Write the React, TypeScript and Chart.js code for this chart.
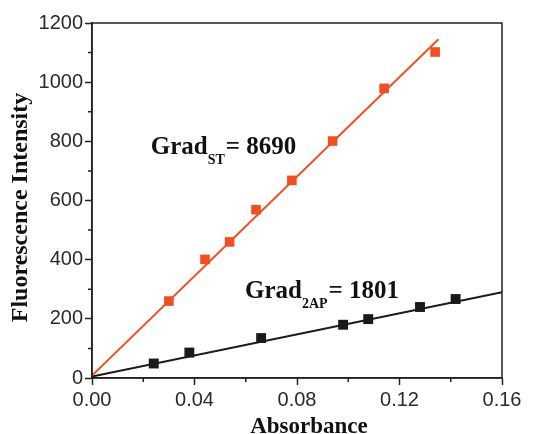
import React, { useEffect, useRef } from 'react';
import { Chart, registerables } from 'chart.js';

Chart.register(...registerables);

// Measured data (Absorbance, Fluorescence Intensity)
const stAbs = [0.030, 0.0441, 0.0537, 0.064, 0.078, 0.0939, 0.114, 0.1339];
const stFluo = [260, 401, 460, 569, 668, 801, 979, 1102];
const apAbs = [0.0241, 0.038, 0.066, 0.098, 0.1078, 0.128, 0.1419];
const apFluo = [49, 86, 135, 180, 199, 240, 267];

// Linear fit lines
const stFitAbs = [0, 0.1352];
const stFitFluo = [8, 1145];
const apFitAbs = [0, 0.16];
const apFitFluo = [5, 290];

// Ticks
const xMajorTicks = [0, 0.04, 0.08, 0.12, 0.16];
const xMinorTicks = [0.02, 0.06, 0.1, 0.14];
const yMajorTicks = [0, 200, 400, 600, 800, 1000, 1200];
const yMinorTicks = [100, 300, 500, 700, 900, 1100];

// Annotations
const annotX = [0.0229, 0.0597];
const annotY = [756, 269];
const annotMain = ['Grad', 'Grad'];
const annotSub = ['ST', '2AP'];
const annotRest = ['= 8690', '= 1801'];

const xTitle = 'Absorbance';
const yTitle = 'Fluorescence Intensity';

const ORANGE = '#F04F22';
const BLACK = '#1a1a1a';
const AXIS = '#222222';

const zip = (xs: number[], ys: number[]) => xs.map((x, i) => ({ x, y: ys[i] }));

const decorPlugin = {
  id: 'decor',
  afterDraw(chart: any) {
    const { ctx, chartArea, scales } = chart;
    const { left, right, top, bottom } = chartArea;
    ctx.save();
    ctx.strokeStyle = AXIS;
    ctx.lineWidth = 1.5;
    ctx.strokeRect(left, top, right - left, bottom - top);
    // minor ticks
    ctx.beginPath();
    yMinorTicks.forEach((v) => {
      const p = scales.y.getPixelForValue(v);
      ctx.moveTo(left - 4, p);
      ctx.lineTo(left, p);
    });
    xMinorTicks.forEach((v) => {
      const p = scales.x.getPixelForValue(v);
      ctx.moveTo(p, bottom);
      ctx.lineTo(p, bottom + 4);
    });
    ctx.stroke();

    // annotations
    ctx.fillStyle = '#111';
    ctx.textAlign = 'left';
    ctx.textBaseline = 'alphabetic';
    annotX.forEach((ax, i) => {
      const px = scales.x.getPixelForValue(ax);
      const py = scales.y.getPixelForValue(annotY[i]);
      ctx.font = 'bold 25px "Liberation Serif", "Times New Roman", serif';
      ctx.fillText(annotMain[i], px, py);
      let w = ctx.measureText(annotMain[i]).width;
      ctx.font = 'bold 14px "Liberation Serif", "Times New Roman", serif';
      ctx.fillText(annotSub[i], px + w, py + 10);
      w += ctx.measureText(annotSub[i]).width;
      ctx.font = 'bold 25px "Liberation Serif", "Times New Roman", serif';
      ctx.fillText(annotRest[i], px + w + 1, py);
    });

    // axis titles
    ctx.font = 'bold 23px "Liberation Serif", "Times New Roman", serif';
    ctx.textAlign = 'center';
    ctx.fillText(xTitle, (left + right) / 2 + 12, bottom + 55);
    ctx.save();
    ctx.font = 'bold 24px "Liberation Serif", "Times New Roman", serif';
    ctx.translate(27, (top + bottom) / 2 + 7);
    ctx.rotate(-Math.PI / 2);
    ctx.fillText(yTitle, 0, 0);
    ctx.restore();
    ctx.restore();
  },
};

export default function App() {
  const ref = useRef<HTMLCanvasElement | null>(null);
  useEffect(() => {
    if (!ref.current) return;
    const chart = new Chart(ref.current, {
      type: 'scatter',
      data: {
        datasets: [
          {
            data: zip(stAbs, stFluo),
            pointStyle: 'rect',
            pointRadius: 6.8,
            pointBackgroundColor: ORANGE,
            pointBorderWidth: 0,
            showLine: false,
          },
          {
            data: zip(apAbs, apFluo),
            pointStyle: 'rect',
            pointRadius: 7,
            pointBackgroundColor: BLACK,
            pointBorderWidth: 0,
            showLine: false,
          },
          {
            data: zip(stFitAbs, stFitFluo),
            showLine: true,
            borderColor: ORANGE,
            borderWidth: 2,
            pointRadius: 0,
          },
          {
            data: zip(apFitAbs, apFitFluo),
            showLine: true,
            borderColor: BLACK,
            borderWidth: 2,
            pointRadius: 0,
          },
        ],
      } as any,
      options: {
        animation: false,
        responsive: false,
        layout: { padding: { left: 0, right: 32, top: 23, bottom: 0 } },
        plugins: { legend: { display: false }, tooltip: { enabled: false } },
        scales: {
          x: {
            type: 'linear',
            min: 0,
            max: 0.16,
            afterFit: (s: any) => { s.height = 56; },
            afterBuildTicks: (s: any) => { s.ticks = xMajorTicks.map((v) => ({ value: v })); },
            ticks: {
              padding: 3,
              color: '#2a2a2a',
              font: { family: '"Liberation Sans", Arial, sans-serif', size: 20 },
              callback: (v: any) => Number(v).toFixed(2),
              maxRotation: 0,
            },
            grid: { drawOnChartArea: false, drawTicks: true, tickLength: 7, tickColor: AXIS, tickWidth: 1.5 },
            border: { display: true, color: AXIS, width: 1.5 },
          },
          y: {
            type: 'linear',
            min: 0,
            max: 1200,
            afterFit: (s: any) => { s.width = 92; },
            afterBuildTicks: (s: any) => { s.ticks = yMajorTicks.map((v) => ({ value: v })); },
            ticks: {
              padding: 2,
              color: '#2a2a2a',
              font: { family: '"Liberation Sans", Arial, sans-serif', size: 20 },
              callback: (v: any) => String(v),
            },
            grid: { drawOnChartArea: false, drawTicks: true, tickLength: 7, tickColor: AXIS, tickWidth: 1.5 },
            border: { display: true, color: AXIS, width: 1.5 },
          },
        },
      } as any,
      plugins: [decorPlugin],
    });
    return () => chart.destroy();
  }, []);
  return (
    <div style={{ position: 'fixed', left: 0, top: 0, width: 534, height: 434, background: '#fff' }}>
      <canvas ref={ref} width={534} height={434} style={{ display: 'block' }} />
    </div>
  );
}
